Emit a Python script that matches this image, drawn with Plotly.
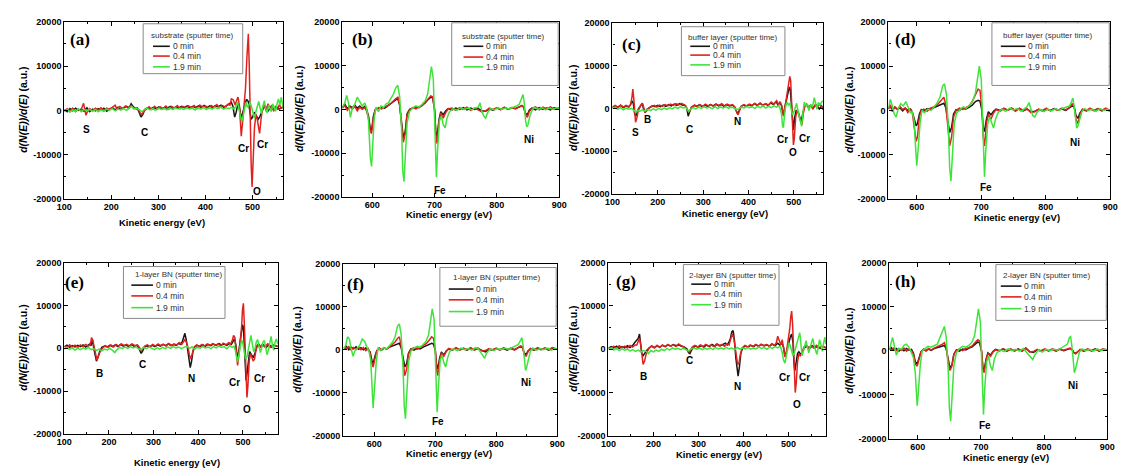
import plotly.graph_objects as go

W, H = 1126, 474

# ---------------- data ----------------
# (a) substrate, low-energy window
a_black = [(100,200),(106,-300),(112,400),(118,-100),(124,500),(130,0),(136,300),(142,-200),(148,600),(154,-300),(160,300),(166,-100),(172,400),(178,0),(184,500),(190,-200),(196,300),(202,600),(208,100),(214,700),(220,200),(226,500),(232,900),(238,600),(242,1500),(246,900),(250,500),(255,600),(259,-500),(263,-1500),(267,-900),(271,200),(277,600),(283,300),(289,700),(295,400),(301,800),(307,300),(313,700),(319,500),(325,900),(331,400),(337,800),(343,500),(349,900),(355,600),(361,1000),(367,500),(373,900),(379,600),(385,1000),(391,700),(397,1100),(403,600),(409,1000),(415,700),(421,1100),(427,800),(433,1200),(439,700),(445,1100),(451,1500),(455,1800),(458,1000),(462,-1500),(465,-500),(469,1500),(472,800),(476,-1800),(479,-600),(483,1000),(487,2500),(491,2000),(494,300),(497,-2000),(500,-1500),(504,-400),(508,-1200),(512,-2000),(515,-1500),(519,-300),(523,500),(528,900),(533,-200),(538,800),(544,200),(550,900),(556,300),(565,700)]
a_red = [(100,-200),(106,400),(112,-100),(118,500),(124,-300),(130,300),(135,-100),(138,600),(141,1600),(143,500),(146,-1100),(149,-300),(154,400),(160,-100),(166,500),(172,100),(178,600),(184,-100),(190,500),(196,200),(202,700),(208,1200),(212,300),(218,900),(224,400),(230,1000),(236,500),(242,1100),(248,600),(254,400),(258,100),(262,-700),(265,-900),(269,-200),(274,300),(280,800),(286,200),(292,900),(298,300),(304,800),(310,400),(316,1000),(322,300),(328,900),(334,500),(340,1100),(346,400),(352,900),(358,500),(364,1000),(370,600),(376,1100),(382,400),(388,1200),(394,700),(400,1000),(406,500),(412,1100),(418,700),(424,1300),(430,600),(436,1100),(442,800),(448,1400),(452,1200),(455,2600),(459,2400),(463,1200),(466,2200),(469,3000),(472,1200),(474,-2500),(476,-5800),(479,-2500),(482,500),(485,5000),(488,12000),(491,17300),(493,10000),(495,-3000),(497,-12000),(499,-17300),(501,-12000),(504,-4000),(507,-1000),(510,-2000),(513,-4000),(515,-5200),(518,-2000),(521,300),(525,1200),(529,-200),(533,1500),(537,300),(541,1200),(545,-200),(549,900),(553,200),(557,1300),(561,400),(565,1100)]
a_green = [(100,-300),(106,200),(112,-400),(118,100),(124,-200),(130,300),(136,-300),(142,200),(148,-100),(154,300),(160,-200),(166,200),(172,-300),(178,100),(184,-200),(190,300),(196,0),(202,400),(208,-100),(214,300),(220,100),(226,400),(232,0),(238,500),(243,900),(248,300),(254,500),(260,100),(265,-300),(270,200),(276,500),(282,100),(288,400),(294,0),(300,500),(306,200),(312,400),(318,100),(324,500),(330,200),(336,600),(342,300),(348,500),(354,200),(360,600),(366,300),(372,500),(378,100),(384,600),(390,300),(396,700),(402,200),(408,600),(414,300),(420,700),(426,400),(432,800),(438,300),(444,600),(450,400),(456,700),(461,300),(465,1200),(468,1800),(471,300),(474,-1500),(477,-2500),(480,-1200),(483,600),(486,1800),(489,700),(492,1200),(495,1800),(498,700),(501,-800),(504,-1800),(507,-300),(510,1200),(513,2000),(516,600),(519,-700),(522,1000),(525,2200),(528,500),(531,-600),(534,1200),(537,600),(540,-300),(543,1500),(546,700),(549,-200),(552,1500),(555,2600),(558,1200),(561,3000),(563,1800),(565,700)]
a_labels = [("S",148,-4300),("C",270,-5000),("Cr",480,-8700),("Cr",522,-7600),("O",509,-18400)]

# (b) substrate, high-energy window
b_black = [(552,500),(556,1200),(560,200),(564,800),(568,400),(572,1000),(576,300),(580,800),(584,200),(588,700),(591,0),(594,-1500),(597,-4500),(599,-4800),(602,-1500),(605,0),(610,200),(615,500),(620,300),(625,800),(630,1200),(634,1800),(638,2200),(641,2500),(644,1000),(647,-3000),(650,-6500),(653,-5000),(656,-1000),(660,0),(665,300),(670,600),(675,400),(680,900),(685,1500),(690,2300),(694,2800),(697,2700),(700,0),(702,-5000),(704,-6500),(707,-2500),(710,-500),(714,-1200),(718,-300),(722,200),(728,-100),(734,300),(740,0),(746,400),(752,-100),(758,300),(764,0),(770,200),(776,-300),(782,-400),(788,100),(794,-200),(800,300),(806,0),(812,400),(818,100),(824,300),(830,200),(836,500),(840,800),(843,600),(846,-900),(849,-1200),(852,-200),(856,300),(862,-100),(868,400),(874,0),(880,300),(886,-100),(892,400),(900,200)]
b_red = [(552,300),(556,900),(560,-200),(564,600),(568,100),(572,700),(576,-300),(580,500),(584,0),(588,400),(591,-300),(594,-2000),(597,-5000),(599,-5500),(602,-1800),(605,-200),(610,400),(615,100),(620,600),(625,900),(630,1400),(634,2000),(638,2500),(641,2800),(644,1200),(647,-3500),(650,-7500),(653,-5500),(656,-1200),(660,-200),(665,400),(670,100),(675,600),(680,800),(685,1600),(690,2500),(694,3100),(697,2900),(700,200),(702,-5500),(704,-7800),(707,-3000),(710,-800),(714,-2000),(718,-700),(722,100),(728,300),(734,-200),(740,400),(746,0),(752,500),(758,-200),(764,300),(770,-100),(776,-600),(782,-300),(788,300),(794,0),(800,400),(806,-100),(812,500),(818,0),(824,400),(830,100),(836,600),(840,900),(843,500),(846,-1200),(849,-1800),(852,-500),(856,200),(862,600),(868,-100),(874,500),(880,100),(886,600),(892,0),(900,400)]
b_green = [(552,500),(556,1500),(559,3200),(562,1500),(565,-1800),(568,200),(572,1200),(576,2800),(580,1800),(584,800),(588,1500),(591,300),(594,-2500),(597,-11000),(599,-13000),(601,-8000),(603,-2500),(606,500),(610,-500),(614,800),(618,400),(622,1200),(626,1500),(630,2500),(634,3500),(638,5000),(641,5500),(644,3000),(647,-4000),(649,-14000),(651,-16500),(653,-11000),(656,-3000),(660,-500),(665,300),(670,800),(675,500),(680,1200),(685,2000),(689,3500),(692,6500),(695,9800),(698,7000),(700,-2000),(702,-11000),(703,-15500),(705,-9000),(708,-2500),(711,-1500),(714,-3500),(717,-4200),(720,-2000),(724,-500),(730,200),(736,-200),(742,400),(748,0),(754,300),(760,-100),(766,400),(770,500),(773,1500),(776,-500),(779,-1500),(782,-2000),(785,-800),(790,200),(796,-100),(802,400),(808,0),(814,300),(820,100),(826,500),(832,800),(836,1200),(840,2500),(842,3400),(844,1500),(846,-2500),(848,-4000),(850,-3500),(853,-1500),(856,-300),(860,500),(866,0),(872,400),(878,-100),(884,300),(890,0),(896,400),(900,200)]
b_labels = [("Fe",708,-18500),("Ni",852,-6900)]

# (c) buffer layer, low-energy window
c_black = [(100,200),(106,600),(112,300),(118,700),(124,200),(130,600),(136,300),(140,900),(143,1800),(146,1200),(149,-1200),(152,-1800),(156,-300),(162,700),(166,1200),(169,-300),(172,-900),(176,-200),(182,300),(188,600),(194,400),(200,700),(206,400),(212,800),(218,500),(224,900),(230,600),(236,1000),(242,700),(248,1100),(254,800),(260,700),(264,0),(267,-1800),(270,-900),(274,300),(280,700),(286,500),(292,900),(298,400),(304,800),(310,500),(316,900),(322,600),(328,1000),(334,600),(340,900),(346,500),(352,900),(358,600),(364,800),(369,400),(373,-500),(376,-1300),(379,-600),(383,400),(389,800),(395,500),(401,900),(407,600),(413,1100),(419,700),(425,1200),(431,800),(437,1000),(443,700),(449,1300),(455,900),(461,1600),(465,800),(469,1400),(473,600),(475,-800),(477,-1500),(480,300),(484,2000),(487,3500),(490,5000),(492,4500),(494,1000),(497,-3500),(499,-5000),(502,-2000),(505,-500),(509,-700),(513,-2000),(516,-3000),(519,-1500),(523,300),(528,800),(533,200),(538,700),(544,300),(550,800),(556,-100),(561,600),(565,-200)]
c_red = [(100,300),(106,700),(112,200),(118,800),(124,300),(130,700),(136,400),(140,900),(143,2500),(145,4500),(147,2500),(149,-800),(151,-3200),(154,-2200),(157,-500),(162,600),(166,1200),(169,300),(172,-1000),(176,-500),(180,0),(186,400),(192,700),(198,300),(204,800),(210,500),(216,900),(222,600),(228,1000),(234,700),(240,1100),(246,800),(252,1200),(258,900),(262,600),(265,-200),(268,-900),(271,-400),(275,300),(281,800),(287,400),(293,900),(299,500),(305,1000),(311,600),(317,900),(323,500),(329,1000),(335,700),(341,1100),(347,600),(353,1000),(359,700),(365,900),(370,300),(374,-900),(377,-1500),(380,-600),(384,500),(390,900),(396,600),(402,1000),(408,700),(414,1200),(420,800),(426,1300),(432,700),(438,1100),(444,800),(450,1500),(456,1000),(462,1800),(466,900),(470,1500),(473,700),(475,-500),(477,-1800),(480,0),(483,2000),(486,4000),(489,6000),(491,7500),(493,6500),(495,2000),(497,-3000),(499,-8500),(501,-7000),(504,-2000),(507,-500),(510,-1000),(513,-2500),(516,-3500),(518,-3800),(521,-1000),(524,500),(528,1000),(532,200),(537,800),(542,-200),(547,900),(552,300),(557,1000),(561,200),(565,-300)]
c_green = [(100,0),(106,300),(112,-200),(118,200),(124,-300),(130,100),(136,-200),(142,0),(148,-500),(152,-900),(156,-400),(160,-700),(166,-300),(172,-600),(178,-200),(184,-500),(190,-100),(196,-400),(202,0),(208,-300),(214,100),(220,-200),(226,200),(232,-100),(238,300),(244,0),(250,400),(256,100),(262,300),(265,-300),(268,-700),(272,-200),(278,200),(284,-100),(290,300),(296,0),(302,400),(308,100),(314,300),(320,-100),(326,400),(332,0),(338,300),(344,100),(350,400),(356,0),(362,300),(368,100),(374,-300),(378,-100),(384,300),(390,100),(396,500),(402,200),(408,400),(414,0),(420,500),(426,200),(432,600),(438,100),(444,500),(450,200),(456,600),(462,300),(467,700),(470,-200),(473,-1500),(475,-4000),(477,-4500),(479,-2000),(482,500),(485,1500),(488,800),(491,1200),(494,-200),(497,-1500),(500,-800),(503,500),(506,1200),(509,-500),(512,-2000),(515,-3800),(517,-4200),(520,-1000),(523,1500),(526,600),(530,1000),(533,-500),(537,800),(541,400),(545,2500),(548,1200),(551,-200),(554,1400),(558,800),(561,1500),(565,1800)]
c_labels = [("S",152,-5600),("B",178,-2600),("C",269,-4850),("N",375,-2950),("Cr",475,-7300),("O",499,-10400),("Cr",524,-7000)]

# (d) buffer layer, high-energy window
d_black = [(556,300),(559,1200),(562,-200),(566,800),(570,200),(574,600),(578,-100),(582,500),(586,0),(590,300),(593,-300),(596,-2000),(599,-3500),(601,-3000),(604,-800),(607,200),(611,-200),(616,400),(621,200),(626,600),(631,900),(635,1200),(639,1500),(642,1600),(645,600),(648,-2500),(651,-5000),(654,-3800),(657,-800),(661,200),(666,0),(671,500),(676,300),(681,700),(686,1200),(691,2000),(695,2300),(698,2100),(701,0),(703,-3800),(705,-4800),(708,-2000),(711,-300),(715,-1000),(719,-200),(723,300),(729,0),(735,400),(741,100),(747,500),(753,0),(759,400),(765,-100),(771,300),(777,-300),(783,-200),(789,200),(795,-100),(801,300),(807,0),(813,400),(819,100),(825,300),(831,0),(837,600),(841,1000),(844,800),(847,-1200),(850,-1800),(853,-600),(857,200),(863,-100),(869,300),(875,0),(881,400),(887,-100),(893,300),(900,-200)]
d_red = [(556,500),(559,1000),(562,0),(566,700),(570,300),(574,900),(578,200),(582,600),(586,-500),(590,400),(593,-500),(596,-3500),(599,-7000),(601,-6000),(604,-1500),(607,0),(611,300),(616,-200),(621,500),(626,800),(631,1200),(635,1800),(639,2500),(642,3000),(645,1200),(648,-3500),(651,-8000),(654,-6000),(657,-1500),(661,0),(666,500),(671,200),(676,700),(681,1000),(686,2000),(691,3500),(695,4800),(698,4500),(701,500),(703,-6000),(705,-8000),(708,-3000),(711,-800),(715,-2000),(719,-600),(723,200),(729,-200),(735,500),(741,0),(747,400),(753,-200),(759,500),(765,0),(771,400),(777,-500),(783,-300),(789,300),(795,0),(801,500),(807,-100),(813,300),(819,0),(825,500),(831,100),(837,700),(841,1500),(844,1000),(847,-2000),(850,-3000),(853,-1000),(857,300),(863,0),(869,500),(875,-100),(881,400),(887,0),(893,500),(900,0)]
d_green = [(556,500),(559,2500),(562,1000),(565,-800),(568,-1500),(571,300),(575,1500),(579,1000),(583,2000),(587,500),(590,-500),(593,-300),(596,-2500),(598,-8000),(600,-12500),(602,-9000),(605,-3000),(608,0),(612,-500),(617,300),(622,0),(627,800),(632,1800),(636,3000),(640,5500),(643,6000),(646,3500),(649,-4000),(651,-13000),(653,-16000),(655,-10000),(658,-3000),(662,-500),(667,200),(672,800),(677,500),(682,1200),(687,2200),(691,4000),(694,7000),(697,10000),(700,7000),(702,-1500),(704,-11000),(705,-15000),(707,-9000),(710,-3000),(713,-1500),(716,-3000),(719,-4000),(722,-2000),(726,-500),(732,300),(738,-200),(744,500),(750,100),(756,400),(762,-200),(768,500),(771,800),(774,1800),(777,0),(780,-1200),(783,-1500),(786,-500),(791,200),(797,-300),(803,300),(809,-100),(815,400),(821,0),(827,500),(833,700),(837,1000),(840,2000),(842,2800),(844,1000),(846,-2500),(848,-4000),(850,-3500),(853,-1500),(856,-300),(860,400),(866,0),(872,300),(878,-200),(884,400),(890,0),(896,300),(900,-300)]
d_labels = [("Fe",708,-17500),("Ni",846,-7200)]

# (e) 1-layer BN, low-energy window
e_black = [(100,300),(106,700),(112,200),(118,600),(124,300),(130,700),(136,400),(142,800),(148,300),(154,700),(157,1000),(160,600),(163,2000),(166,0),(169,-2000),(172,-3000),(175,-2200),(179,-800),(184,200),(190,500),(196,300),(202,700),(208,400),(214,800),(220,400),(226,900),(232,500),(238,800),(244,400),(250,900),(256,500),(262,700),(266,300),(269,-400),(272,-1200),(275,-700),(279,200),(285,600),(291,300),(297,700),(303,400),(309,800),(315,500),(321,900),(327,600),(333,1000),(339,600),(345,900),(351,700),(356,1200),(360,900),(364,1500),(367,2500),(370,3500),(373,2000),(376,-500),(379,-3000),(382,-4500),(385,-3000),(388,-800),(392,300),(398,700),(404,400),(410,800),(416,500),(422,900),(428,600),(434,1000),(440,700),(446,1100),(452,800),(458,1000),(464,700),(470,1200),(474,900),(478,1800),(481,2200),(484,800),(486,-2000),(488,-2500),(491,-500),(494,1500),(497,3500),(499,5500),(501,5000),(503,1500),(505,-4000),(507,-7500),(509,-6000),(512,-2500),(515,-800),(519,-1500),(523,-2200),(527,-1200),(531,500),(535,1000),(540,300),(546,800),(552,200),(558,900),(564,300),(570,700),(578,400)]
e_red = [(100,500),(106,200),(112,800),(118,300),(124,700),(130,200),(136,800),(142,400),(148,900),(154,500),(158,800),(161,2500),(164,1800),(167,300),(170,-1500),(173,-2800),(176,-2000),(180,-800),(186,100),(192,600),(198,200),(204,800),(210,300),(216,900),(222,500),(228,1000),(234,600),(240,900),(246,500),(252,1000),(258,600),(264,800),(268,200),(272,-500),(276,0),(280,500),(286,800),(292,400),(298,900),(304,500),(310,1000),(316,600),(322,900),(328,500),(334,1100),(340,700),(346,1000),(352,800),(358,1300),(363,900),(366,1400),(370,2000),(373,1500),(377,200),(380,-1500),(383,-2500),(386,-1500),(390,200),(396,800),(402,400),(408,900),(414,500),(420,1000),(426,600),(432,1100),(438,700),(444,1000),(450,600),(456,1200),(462,800),(468,1300),(472,900),(476,1800),(479,3000),(482,2500),(484,500),(486,-3000),(488,-4000),(491,-1500),(494,1500),(497,5000),(499,9000),(501,10500),(503,6000),(505,-2000),(507,-9000),(509,-11500),(511,-9000),(514,-3000),(517,-1200),(520,-2000),(523,-3000),(526,-2500),(529,-500),(533,800),(538,200),(543,900),(549,300),(555,1000),(561,200),(567,800),(578,400)]
e_green = [(100,-200),(106,200),(112,-300),(118,100),(124,-400),(130,0),(136,-300),(142,100),(148,-200),(154,200),(160,-300),(166,-100),(172,-500),(178,-200),(184,-600),(190,-200),(196,-400),(202,0),(208,-500),(213,-1000),(218,-300),(224,200),(230,-100),(236,300),(242,0),(248,400),(254,100),(260,300),(266,-100),(272,-300),(278,200),(284,-100),(290,300),(296,0),(302,-300),(308,100),(314,-200),(320,200),(326,-100),(332,300),(338,0),(344,400),(350,100),(356,300),(362,-100),(368,200),(374,500),(380,0),(386,300),(392,-200),(398,200),(404,0),(410,400),(416,100),(422,300),(428,-100),(434,400),(440,100),(446,500),(452,200),(458,400),(464,-100),(470,600),(476,200),(480,500),(483,-500),(485,-1500),(488,-3200),(491,-1500),(494,500),(497,2000),(500,1000),(503,-500),(506,-2500),(509,-2000),(512,-500),(515,1500),(518,3000),(521,1000),(524,-800),(527,0),(530,1500),(533,2000),(536,500),(539,-1000),(542,0),(545,1500),(548,1800),(551,200),(554,-1500),(557,-500),(560,1500),(563,2800),(566,800),(569,-500),(572,1500),(575,2200),(578,1000)]
e_labels = [("B",178,-6000),("C",274,-3800),("N",384,-7100),("Cr",480,-8000),("O",510,-14200),("Cr",537,-7000)]

# (f) 1-layer BN, high-energy window
f_black = [(550,300),(554,800),(558,0),(562,600),(566,200),(570,700),(574,100),(578,500),(582,0),(586,400),(590,0),(593,-500),(596,-2500),(598,-3200),(601,-1500),(604,-200),(608,300),(612,-100),(616,400),(620,200),(625,600),(630,900),(634,1100),(638,1400),(641,1500),(644,500),(647,-2000),(650,-4000),(653,-3200),(656,-800),(660,200),(665,-100),(670,400),(675,200),(680,600),(685,900),(690,1200),(694,1500),(697,1300),(700,-200),(702,-3500),(704,-4500),(707,-2000),(710,-500),(714,-1200),(718,-300),(722,200),(728,-100),(734,400),(740,0),(746,300),(752,-100),(758,400),(764,0),(770,300),(776,-200),(782,-500),(788,100),(794,-100),(800,300),(806,0),(812,300),(818,-100),(824,400),(830,0),(836,500),(840,700),(843,500),(846,-800),(849,-1100),(852,-300),(856,200),(862,-100),(868,300),(874,0),(880,400),(886,-100),(892,300),(900,100)]
f_red = [(550,500),(554,200),(558,700),(562,-100),(566,500),(570,100),(574,600),(578,0),(582,500),(586,-200),(590,300),(593,-800),(596,-3200),(598,-4000),(601,-2000),(604,-300),(608,400),(612,0),(616,500),(620,100),(625,700),(630,1200),(634,1800),(638,2600),(641,3000),(644,1000),(647,-3000),(650,-6000),(653,-4500),(656,-1000),(660,100),(665,500),(670,100),(675,600),(680,900),(685,1400),(690,2200),(694,3000),(697,2700),(700,0),(702,-4500),(704,-6000),(707,-2500),(710,-700),(714,-1500),(718,-400),(722,300),(728,0),(734,500),(740,-100),(746,400),(752,0),(758,500),(764,-100),(770,400),(776,-300),(782,-200),(788,300),(794,0),(800,400),(806,-100),(812,500),(818,0),(824,300),(830,-100),(836,600),(840,900),(843,700),(846,-1200),(849,-1500),(852,-500),(856,300),(862,0),(868,500),(874,100),(880,400),(886,0),(892,500),(900,200)]
f_green = [(550,300),(553,1000),(556,3000),(559,2500),(562,200),(565,-1500),(568,-300),(572,300),(576,1000),(580,2500),(584,2000),(588,500),(591,-200),(594,-2500),(596,-9000),(598,-13500),(600,-9500),(603,-3000),(606,500),(610,-200),(615,500),(620,200),(625,1000),(630,1800),(634,3000),(638,5500),(641,6000),(644,3500),(647,-4000),(649,-13000),(651,-16000),(653,-10500),(656,-3000),(660,-300),(665,400),(670,800),(675,600),(680,1200),(685,2000),(689,3500),(692,6500),(695,9500),(698,7000),(700,-1500),(702,-10500),(703,-14500),(705,-9000),(708,-2500),(711,-1200),(714,-3000),(717,-4000),(720,-2000),(724,-300),(730,200),(736,-200),(742,400),(748,0),(754,300),(760,-100),(766,500),(770,300),(774,-500),(778,-1200),(781,-2000),(784,-800),(790,200),(796,-200),(802,300),(808,0),(814,400),(820,100),(826,500),(832,900),(836,1200),(840,2200),(842,2800),(844,1000),(846,-3000),(848,-4800),(850,-4000),(853,-1800),(856,-300),(860,400),(866,-100),(872,300),(878,0),(884,400),(890,-100),(896,300),(900,100)]
f_labels = [("Fe",705,-16600),("Ni",848,-7500)]

# (g) 2-layer BN, low-energy window
g_black = [(100,200),(106,600),(112,300),(118,700),(124,200),(130,600),(136,300),(142,800),(148,400),(154,900),(158,1500),(162,2000),(166,2500),(169,3500),(171,1000),(174,-1000),(177,-1500),(181,-800),(185,-300),(190,300),(196,700),(202,400),(208,800),(214,500),(220,900),(226,600),(232,1000),(238,700),(244,1100),(250,800),(256,1000),(262,700),(267,600),(271,300),(275,0),(278,-800),(281,-1000),(284,-300),(288,400),(294,800),(300,400),(306,900),(312,500),(318,1000),(324,600),(330,1100),(336,700),(342,1200),(348,800),(354,1100),(360,1400),(364,1000),(367,1500),(371,2500),(374,4000),(377,4300),(380,2000),(383,-2000),(386,-5000),(388,-6200),(391,-4000),(394,-1000),(398,300),(404,800),(410,500),(416,900),(422,600),(428,1000),(434,700),(440,1100),(446,800),(452,1000),(458,700),(464,1200),(470,800),(476,1400),(481,900),(485,1500),(489,500),(492,-1500),(495,-800),(498,500),(501,1500),(504,2800),(507,3500),(510,1500),(512,-3000),(514,-5000),(517,-3000),(520,-1000),(523,-600),(527,-1200),(531,-500),(535,300),(541,700),(547,200),(553,800),(559,300),(565,700),(571,200),(577,600),(583,300)]
g_red = [(100,400),(106,100),(112,700),(118,200),(124,800),(130,300),(136,700),(142,300),(148,900),(154,500),(159,1000),(163,1000),(166,1800),(169,2500),(172,800),(175,-2000),(177,-3500),(180,-2800),(184,-1000),(190,200),(196,800),(202,300),(208,900),(214,400),(220,1000),(226,600),(232,1100),(238,700),(244,1000),(250,600),(256,1200),(262,800),(268,500),(272,0),(276,-300),(279,-600),(282,-200),(286,500),(292,900),(298,500),(304,1000),(310,600),(316,1100),(322,700),(328,1000),(334,600),(340,1200),(346,800),(352,1100),(358,700),(364,1300),(368,1000),(372,2500),(375,3500),(378,2800),(381,500),(384,-2000),(387,-3500),(390,-3200),(393,-1200),(397,300),(403,900),(409,500),(415,1000),(421,600),(427,1100),(433,700),(439,1200),(445,800),(451,1100),(457,700),(463,1300),(469,900),(473,1500),(476,3000),(479,2200),(483,1000),(486,2200),(489,600),(492,-1800),(495,-1000),(498,1000),(501,3000),(503,5000),(505,7500),(507,8800),(509,6000),(511,500),(513,-6000),(515,-10000),(517,-8000),(520,-3000),(523,-1000),(526,-1500),(530,-1000),(534,500),(539,900),(544,200),(550,800),(556,300),(562,900),(568,200),(574,700),(583,400)]
g_green = [(100,-100),(106,300),(112,-200),(118,200),(124,-300),(130,100),(136,-200),(142,0),(148,-400),(154,-100),(160,-500),(166,-200),(172,-600),(178,-300),(184,-500),(189,-1000),(194,-300),(200,-600),(206,-200),(212,-500),(218,0),(224,-300),(230,200),(236,-200),(242,300),(248,0),(254,200),(260,-100),(266,200),(272,-100),(278,-400),(284,100),(290,300),(296,0),(302,300),(308,-100),(314,200),(320,0),(326,300),(332,-100),(338,400),(344,100),(350,300),(356,0),(362,400),(368,100),(374,300),(380,-100),(386,400),(392,0),(398,300),(404,100),(410,400),(416,0),(422,300),(428,100),(434,500),(440,200),(446,400),(452,0),(458,500),(464,200),(470,600),(476,300),(482,700),(486,-800),(489,-2500),(492,-3200),(495,-1500),(498,500),(501,1500),(504,800),(507,-500),(510,-1500),(513,-800),(516,500),(519,1500),(522,2500),(525,3800),(527,2000),(530,-1500),(533,-500),(536,1000),(539,2000),(542,500),(545,-800),(548,500),(551,1500),(554,2500),(557,800),(560,-500),(563,-1200),(566,500),(569,2200),(572,1000),(575,-500),(578,1500),(581,2800),(583,1200)]
g_labels = [("B",178,-6300),("C",279,-2500),("N",387,-8700),("Cr",491,-6600),("O",518,-12800),("Cr",536,-6600)]

# (h) 2-layer BN, high-energy window
h_black = [(555,300),(558,700),(562,100),(566,500),(570,-100),(574,400),(578,0),(582,500),(586,100),(590,300),(593,-500),(596,-2500),(599,-3000),(602,-1500),(605,-200),(609,300),(613,0),(617,400),(621,100),(626,500),(631,700),(635,900),(639,1100),(642,1200),(645,400),(648,-2000),(651,-4000),(654,-3200),(657,-800),(661,200),(666,-100),(671,400),(676,200),(681,600),(686,900),(691,1500),(695,2000),(698,1700),(701,-200),(703,-3800),(705,-4500),(708,-2000),(711,-500),(715,-1000),(719,-200),(723,300),(729,0),(735,400),(741,-100),(747,300),(753,0),(759,400),(765,-100),(771,600),(777,-200),(783,-400),(789,200),(795,-100),(801,300),(807,0),(813,300),(819,-100),(825,400),(831,0),(837,300),(841,500),(844,300),(847,-400),(850,-600),(853,-200),(857,200),(863,-100),(869,300),(875,0),(881,400),(887,-100),(893,300),(900,100)]
h_red = [(555,500),(558,200),(562,600),(566,0),(570,500),(574,100),(578,600),(582,-100),(586,400),(590,0),(593,-800),(596,-3000),(599,-3500),(602,-1800),(605,-300),(609,400),(613,-100),(617,500),(621,200),(626,600),(631,900),(635,1200),(639,1500),(642,1800),(645,600),(648,-2500),(651,-4500),(654,-3500),(657,-900),(661,100),(666,400),(671,0),(676,500),(681,700),(686,1100),(691,1900),(695,2500),(698,2200),(701,0),(703,-4200),(705,-5000),(708,-2200),(711,-600),(715,-1300),(719,-300),(723,200),(729,-100),(735,500),(741,0),(747,400),(753,-100),(759,300),(765,0),(771,500),(777,-300),(783,-200),(789,300),(795,0),(801,400),(807,-100),(813,400),(819,0),(825,300),(831,100),(837,400),(841,600),(844,400),(847,-500),(850,-700),(853,-200),(857,300),(863,0),(869,400),(875,-100),(881,300),(887,0),(893,400),(900,200)]
h_green = [(555,300),(557,1500),(560,3000),(563,1000),(566,-1000),(570,500),(574,300),(578,1200),(582,1500),(586,800),(590,-500),(593,-1500),(596,-5000),(599,-12500),(601,-9000),(604,-3000),(607,0),(611,500),(616,1000),(621,800),(626,1200),(631,1500),(635,3000),(639,4500),(642,5500),(645,3000),(648,-4000),(650,-13000),(652,-16000),(654,-11000),(657,-3500),(661,-500),(666,500),(671,1000),(676,800),(681,1200),(686,2000),(690,3500),(693,7000),(696,9500),(699,6500),(701,-1500),(703,-10000),(704,-14500),(706,-8500),(709,-2500),(712,-1200),(715,-3500),(718,-4500),(721,-2000),(725,-500),(731,200),(737,-200),(743,400),(749,0),(755,300),(761,-100),(767,500),(771,-200),(775,-800),(779,-1500),(782,-2000),(785,-1000),(791,200),(797,-300),(803,300),(809,0),(815,400),(821,100),(827,600),(833,1000),(837,1500),(840,3000),(842,3200),(844,1000),(846,-3000),(848,-5000),(850,-4000),(853,-1800),(856,-300),(860,400),(866,0),(872,300),(878,-100),(884,400),(890,0),(896,300),(900,100)]
h_labels = [("Fe",707,-17000),("Ni",846,-7800)]

SERIES_NAMES = ["0 min", "0.4 min", "1.9 min"]
PANEL_LETTERS = ["(a)", "(b)", "(c)", "(d)", "(e)", "(f)", "(g)", "(h)"]
LEGEND_TITLES = ["substrate (sputter time)", "substrate (sputter time)",
                 "buffer layer (sputter time)", "buffer layer (sputter time)",
                 "1-layer BN (sputter time)", "1-layer BN (sputter time)",
                 "2-layer BN (sputter time)", "2-layer BN (sputter time)"]
X_RANGES = [[100, 565], [552, 900], [100, 565], [556, 900],
            [100, 579], [549, 900], [100, 584], [555, 900]]
Y_TICKS = [-20000, -10000, 0, 10000, 20000]
X_TITLE = "Kinetic energy (eV)"

SERIES = [
    [a_black, a_red, a_green], [b_black, b_red, b_green],
    [c_black, c_red, c_green], [d_black, d_red, d_green],
    [e_black, e_red, e_green], [f_black, f_red, f_green],
    [g_black, g_red, g_green], [h_black, h_red, h_green],
]
LABELS = [a_labels, b_labels, c_labels, d_labels, e_labels, f_labels, g_labels, h_labels]

# ---------------- layout geometry (screen pixels) ----------------
COLORS = ["#161616", "#e0221f", "#3fe43b"]
FONT = "Liberation Sans, Arial, sans-serif"
OFF = 8  # page body margin in the browser
FRAMES = [(57, 279, 17, 198), (339, 559, 17, 196), (613, 827, 18, 193), (893, 1118, 17, 198),
          (57, 274, 263, 438), (340, 557, 264, 440), (609, 830, 263, 440), (894, 1115, 263, 443)]
LETTER_POS = [(73, 35), (359, 35), (632, 40), (910, 35), (67, 283), (352, 285), (627, 282), (910, 282)]
YTITLE_POS = [(15, 107), (295, 106), (573, 105), (853, 107), (15, 350), (293, 352), (573, 351), (853, 353)]
XTITLE_POS = [(156, 222), (447, 214), (727, 213), (1023, 217), (171, 467), (447, 458), (721, 459), (1012, 462)]
LEG_BOX = [(137, 19, 238, 70), (450, 18, 558, 82), (683, 22, 788, 72), (998, 18, 1117, 82),
           (117, 267, 220, 320), (438, 268, 556, 328), (685, 265, 782, 327), (1002, 265, 1114, 322)]
LEG_TITLE = [(187, 31), (503, 32), (735, 33), (1055, 31), (173, 275), (495, 278), (735, 276), (1053, 276)]
LEG_ROWS = [(42, 52, 63), (42, 53, 63), (42, 51, 61), (42, 52, 63),
            (286, 297, 309), (290, 301, 313), (285, 295, 306), (287, 298, 310)]
LEG_LINE = [(147, 164), (462, 482), (692, 712), (1007, 1032), (125, 147), (447, 472), (693, 713), (1007, 1028)]


def px(x):
    return (x - OFF) / W


def py(y):
    return 1 - (y - OFF) / H


fig = go.Figure()
layout = dict(width=W, height=H, margin=dict(l=0, r=0, t=0, b=0),
              paper_bgcolor="white", plot_bgcolor="white", showlegend=False)
annotations = []
shapes = []

for i in range(8):
    n = i + 1
    sfx = "" if n == 1 else str(n)
    xa, ya = "x" + sfx, "y" + sfx
    x0, x1, y0, y1 = FRAMES[i]

    for pts, name, col in zip(SERIES[i], SERIES_NAMES, COLORS):
        fig.add_trace(go.Scatter(
            x=[p[0] for p in pts], y=[p[1] for p in pts], mode="lines", name=name,
            line=dict(color=col, width=1.5), xaxis=xa, yaxis=ya, hoverinfo="skip"))

    axis_common = dict(showline=True, linecolor="black", linewidth=1.2, mirror="ticks",
                       ticks="inside", ticklen=4, tickwidth=1, tickcolor="black",
                       showgrid=False, zeroline=False,
                       tickfont=dict(family=FONT, size=9, color="black", weight="bold"))
    layout["xaxis" + sfx] = dict(
        domain=[px(x0), px(x1)], range=X_RANGES[i], anchor=ya,
        tickmode="linear", tick0=0, dtick=100, tickformat="d", ticklabelstandoff=-1,
        minor=dict(tickmode="linear", tick0=0, dtick=50, ticks="inside", ticklen=2, tickcolor="black"),
        **axis_common)
    layout["yaxis" + sfx] = dict(
        domain=[py(y1), py(y0)], range=[-20000, 20000], anchor=xa,
        tickmode="array", tickvals=Y_TICKS, ticktext=[str(v) for v in Y_TICKS],
        minor=dict(tickmode="linear", tick0=0, dtick=5000, ticks="inside", ticklen=2, tickcolor="black"),
        **axis_common)

    # panel letter
    lx, ly = LETTER_POS[i]
    annotations.append(dict(xref="paper", yref="paper", x=px(lx), y=py(ly), text="<b>" + PANEL_LETTERS[i] + "</b>",
                            showarrow=False, xanchor="center", yanchor="middle",
                            font=dict(family="Liberation Serif, Times New Roman, serif", size=17, color="black")))
    # axis titles
    tx, ty = XTITLE_POS[i]
    annotations.append(dict(xref="paper", yref="paper", x=px(tx), y=py(ty), text="<b>" + X_TITLE + "</b>",
                            showarrow=False, xanchor="center", yanchor="middle",
                            font=dict(family=FONT, size=9.5, color="black")))
    tx, ty = YTITLE_POS[i]
    annotations.append(dict(xref="paper", yref="paper", x=px(tx), y=py(ty),
                            text="<b><i>d(N(E))/d(E)</i> (a.u.)</b>", textangle=-90,
                            showarrow=False, xanchor="center", yanchor="middle",
                            font=dict(family=FONT, size=10.5, color="black")))
    # element labels
    for t, lxv, lyv in LABELS[i]:
        annotations.append(dict(xref=xa, yref=ya, x=lxv, y=lyv, text="<b>" + t + "</b>",
                                showarrow=False, xanchor="center", yanchor="middle",
                                font=dict(family=FONT, size=10, color="black")))
    # legend box
    bx0, by0, bx1, by1 = LEG_BOX[i]
    shapes.append(dict(type="rect", xref="paper", yref="paper", x0=px(bx0), x1=px(bx1), y0=py(by1), y1=py(by0),
                       line=dict(color="#8a8a8a", width=1), fillcolor="white", layer="above"))
    gx, gy = LEG_TITLE[i]
    annotations.append(dict(xref="paper", yref="paper", x=px(gx), y=py(gy), text=LEGEND_TITLES[i],
                            showarrow=False, xanchor="center", yanchor="middle",
                            font=dict(family=FONT, size=8, color="#333333")))
    lx0, lx1 = LEG_LINE[i]
    for row_y, name, col in zip(LEG_ROWS[i], SERIES_NAMES, COLORS):
        shapes.append(dict(type="line", xref="paper", yref="paper", x0=px(lx0), x1=px(lx1),
                           y0=py(row_y), y1=py(row_y), line=dict(color=col, width=1.6), layer="above"))
        annotations.append(dict(xref="paper", yref="paper", x=px(lx1 + 1), y=py(row_y), text=name,
                                showarrow=False, xanchor="left", yanchor="middle",
                                font=dict(family=FONT, size=8.5, color="#333333")))

layout["annotations"] = annotations
layout["shapes"] = shapes
fig.update_layout(**layout)
fig.write_html("out.html")
